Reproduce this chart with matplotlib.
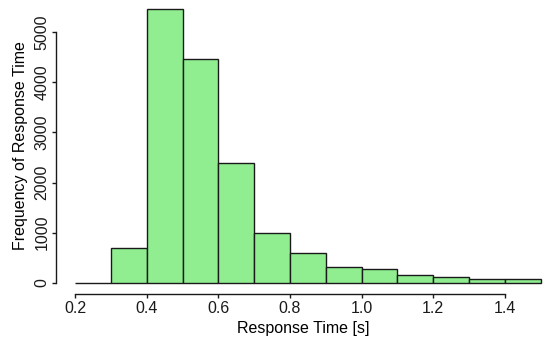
import matplotlib
matplotlib.use("Agg")
import matplotlib.pyplot as plt
import numpy as np

# histogram bins (s) and counts
bin_edges = [0.2, 0.3, 0.4, 0.5, 0.6, 0.7, 0.8, 0.9, 1.0, 1.1, 1.2, 1.3, 1.4, 1.5]
counts = [0, 695, 5465, 4460, 2390, 985, 585, 320, 265, 150, 110, 85, 70]
xticks = [0.2, 0.4, 0.6, 0.8, 1.0, 1.2, 1.4]
xtick_labels = ["0.2", "0.4", "0.6", "0.8", "1.0", "1.2", "1.4"]
yticks = [0, 1000, 2000, 3000, 4000, 5000]

plt.rcParams['font.family'] = ['Liberation Sans', 'DejaVu Sans']

W, H = 550, 342
fig = plt.figure(figsize=(W / 100, H / 100), dpi=100)
# axes placed so the data range matches the reference pixels
left_px, right_px = 56.4, 550
bottom_px, top_px = 293.7, -2.1
ax = fig.add_axes([left_px / W, (H - bottom_px) / H,
                   (right_px - left_px) / W, (bottom_px - top_px) / H])

edges = np.array(bin_edges)
ax.bar(edges[:-1], counts, width=np.diff(edges), align='edge',
       color='#90EE90', edgecolor='#1a1a1a', linewidth=1.0)

ax.set_xlim(0.148, 1.5257)
ax.set_ylim(-218, 5684)

for s in ['top', 'right']:
    ax.spines[s].set_visible(False)
ax.spines['left'].set_bounds(0, 5000)
ax.spines['bottom'].set_bounds(0.2, 1.4)
for s in ['left', 'bottom']:
    ax.spines[s].set_linewidth(1.0)
    ax.spines[s].set_color('#1a1a1a')

fs = 11.5
ax.set_xticks(xticks)
ax.set_xticklabels(xtick_labels)
ax.set_yticks(yticks)
ax.set_yticklabels([str(v) for v in yticks], rotation=90, va='center')
ax.tick_params(axis='both', length=3, width=1.0, labelsize=fs,
               colors='#1a1a1a')
ax.tick_params(axis='x', pad=2)
ax.tick_params(axis='y', pad=2)

ax.set_xlabel('Response Time [s]', fontsize=fs, labelpad=4)
ax.set_ylabel('Frequency of Response Time', fontsize=fs, labelpad=5)

fig.savefig('out.png', dpi=100)
